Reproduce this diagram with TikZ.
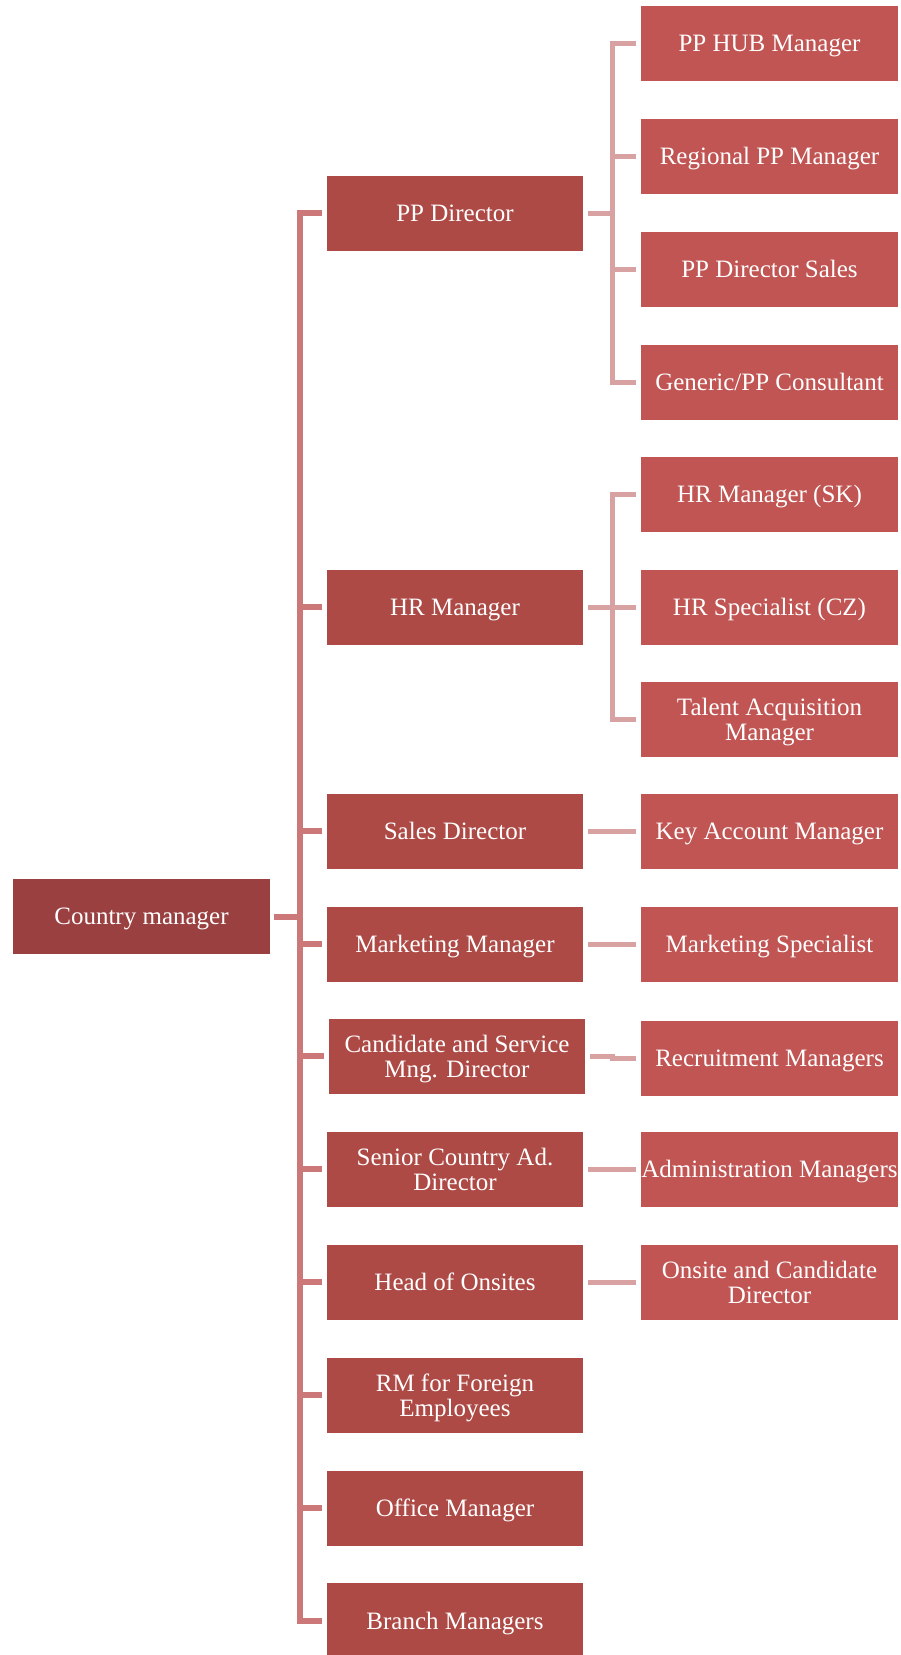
\documentclass[tikz,border=0pt]{standalone}
\usepackage{fontspec}
\setmainfont{Liberation Serif}
\definecolor{topred}{HTML}{9A4040}
\definecolor{midred}{HTML}{AD4A46}
\definecolor{leafred}{HTML}{C05553}
\definecolor{spinered}{HTML}{CD7878}
\definecolor{leafline}{HTML}{D9A2A2}

\begin{document}
\begin{tikzpicture}[x=1pt,y=-1pt,
  box/.style={rectangle,inner sep=0pt,align=center,text=white,minimum height=75pt,
    text depth=0pt,font=\fontsize{25}{25}\selectfont},
  top node/.style={box,fill=topred,minimum width=257pt},
  main node/.style={box,fill=midred,minimum width=256pt},
  leaf node/.style={box,fill=leafred,minimum width=257pt},
  spine/.style={draw=spinered,line width=6pt,shorten <=4pt,shorten >=5pt,
    to path={-- ([xshift=30pt]\tikztostart.east) |- (\tikztotarget)}},
  branch/.style={draw=leafline,line width=5pt,shorten <=5pt,shorten >=5pt,
    to path={-- ([xshift=-28pt]\tikztotarget.west |- \tikztostart) |- (\tikztotarget)}}]

  \useasboundingbox (0,0) rectangle (901,1655);

  \node[top node] (cm) at (141.5,916.5) {Country manager};

  \node[main node] (pp) at (455,213) {PP Director};
  \node[main node] (hr) at (455,607) {HR Manager};
  \node[main node] (sd) at (455,831) {Sales Director};
  \node[main node] (mm) at (455,944) {Marketing Manager};
  \node[main node] (cs) at (457,1056) {Candidate and Service\\Mng. Director};
  \node[main node] (sc) at (455,1169) {Senior Country Ad.\\Director};
  \node[main node] (ho) at (455,1282) {Head of Onsites};
  \node[main node] (rm) at (455,1395) {RM for Foreign\\Employees};
  \node[main node] (om) at (455,1508) {Office Manager};
  \node[main node] (bm) at (455,1620.5) {Branch Managers};

  \node[leaf node] (pp1) at (769.5,43.5) {PP HUB Manager};
  \node[leaf node] (pp2) at (769.5,156) {Regional PP Manager};
  \node[leaf node] (pp3) at (769.5,269) {PP Director Sales};
  \node[leaf node] (pp4) at (769.5,382) {Generic/PP Consultant};
  \node[leaf node] (hr1) at (769.5,494) {HR Manager (SK)};
  \node[leaf node] (hr2) at (769.5,607) {HR Specialist (CZ)};
  \node[leaf node] (hr3) at (769.5,719.5) {Talent Acquisition\\Manager};
  \node[leaf node] (sd1) at (769.5,831) {Key Account Manager};
  \node[leaf node] (mm1) at (769.5,944) {Marketing Specialist};
  \node[leaf node] (cs1) at (769.5,1058) {Recruitment Managers};
  \node[leaf node] (sc1) at (769.5,1169) {Administration Managers};
  \node[leaf node] (ho1) at (769.5,1282) {Onsite and Candidate\\Director};

  \path[spine]
    (cm) edge (pp)
    (cm) edge (hr)
    (cm) edge (sd)
    (cm) edge (mm)
    (cm) edge (cs)
    (cm) edge (sc)
    (cm) edge (ho)
    (cm) edge (rm)
    (cm) edge (om)
    (cm) edge (bm)
    ;

  \path[branch]
    (pp) edge (pp1)
    (pp) edge (pp2)
    (pp) edge (pp3)
    (pp) edge (pp4)
    (hr) edge (hr1)
    (hr) edge (hr2)
    (hr) edge (hr3)
    (sd) edge (sd1)
    (mm) edge (mm1)
    (cs) edge (cs1)
    (sc) edge (sc1)
    (ho) edge (ho1)
    ;

\end{tikzpicture}
\end{document}
